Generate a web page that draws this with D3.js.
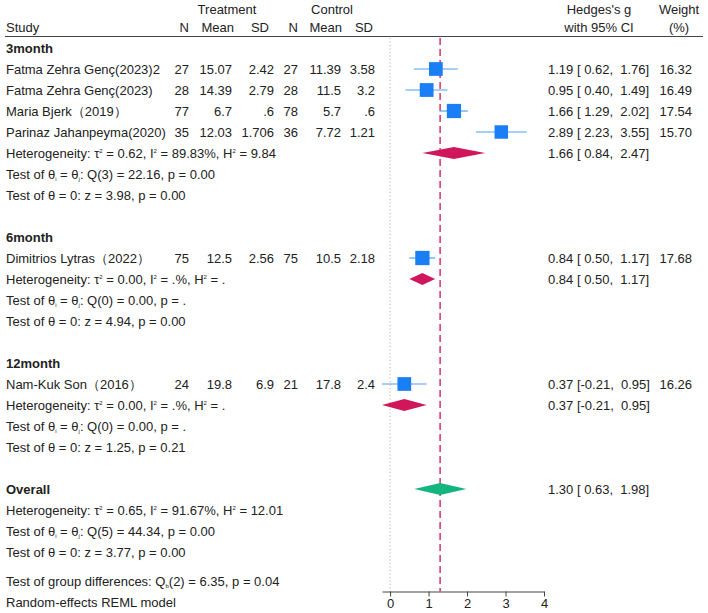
<!DOCTYPE html>
<html>
<head>
<meta charset="utf-8">
<script src="https://cdn.jsdelivr.net/npm/d3@7"></script>
<style>
  body { margin: 0; background: #fff; }
  svg text { font-family: "Liberation Sans", Arial, sans-serif; font-size: 13px; fill: #222; }
</style>
</head>
<body>
<svg id="chart" width="708" height="613"></svg>
<script>
// study level data
var subgroups = ['3month', '6month', '12month'];
var studies = ['Fatma Zehra Genç(2023)2', 'Fatma Zehra Genç(2023)', 'Maria Bjerk\uFF082019\uFF09',
  'Parinaz Jahanpeyma(2020)', 'Dimitrios Lytras\uFF082022\uFF09', 'Nam-Kuk Son\uFF082016\uFF09'];
var studyGroup = [0, 0, 0, 0, 1, 2];
var tN = [27, 28, 77, 35, 75, 24];
var tMean = [15.07, 14.39, 6.7, 12.03, 12.5, 19.8];
var tSD = [2.42, 2.79, 0.6, 1.706, 2.56, 6.9];
var cN = [27, 28, 78, 36, 75, 21];
var cMean = [11.39, 11.5, 5.7, 7.72, 10.5, 17.8];
var cSD = [3.58, 3.2, 0.6, 1.21, 2.18, 2.4];
var g = [1.19, 0.95, 1.66, 2.89, 0.84, 0.37];
var gLo = [0.62, 0.40, 1.29, 2.23, 0.50, -0.21];
var gHi = [1.76, 1.49, 2.02, 3.55, 1.17, 0.95];
var weight = [16.32, 16.49, 17.54, 15.70, 17.68, 16.26];

// subgroup summaries
var sumG = [1.66, 0.84, 0.37];
var sumLo = [0.84, 0.50, -0.21];
var sumHi = [2.47, 1.17, 0.95];
var tau2 = ['0.62', '0.00', '0.00'];
var i2 = ['89.83%', '.%', '.%'];
var h2 = ['9.84', '.', '.'];
var qDf = [3, 0, 0];
var qVal = ['22.16', '0.00', '0.00'];
var qP = ['0.00', '.', '.'];
var zVal = ['3.98', '4.94', '1.25'];
var zP = ['0.00', '0.00', '0.21'];

// overall
var overall = { g: 1.30, lo: 0.63, hi: 1.98, tau2: '0.65', i2: '91.67%', h2: '12.01',
  qDf: 5, q: '44.34', qP: '0.00', z: '3.77', zP: '0.00' };
var groupDiff = { df: 2, q: '6.35', p: '0.04' };
var xTicks = [0, 1, 2, 3, 4];

var svg = d3.select('#chart');

var x = d3.scaleLinear().domain([-0.21, 4]).range([382, 544]);
var rowY = d3.scaleLinear().domain([0, 26]).range([48, 48 + 21 * 26]);
var axisY = 591.5;

var blue = '#1a7ff5', blueLine = '#4da0f0', crimson = '#d0175c', green = '#12b57e';

function fmt(v) { return String(v).replace(/^0\./, '.'); }
function f2(v) { return v.toFixed(2); }
function ciText(m, lo, hi) {
  var l = f2(lo), h = f2(hi);
  return f2(m) + ' [' + (lo < 0 ? '' : ' ') + l + ', ' + (hi < 0 ? '' : ' ') + h + ']';
}

function txt(xp, yp, s, anchor) {
  return svg.append('text')
    .attr('x', xp).attr('y', yp).attr('dy', '0.35em')
    .attr('text-anchor', anchor || 'start')
    .style('white-space', 'pre')
    .text(s);
}
// small raised / lowered marks, offsets in px so they don't drift
function sup(t, s) {
  t.append('tspan').attr('dy', -5).style('font-size', '6px').text(s);
}
function sub(t, s) {
  t.append('tspan').attr('dy', 2).style('font-size', '6px').text(s);
}
function back(t, d, s) {
  t.append('tspan').attr('dy', d).text(s);
}

// headers
txt(227, 9, 'Treatment', 'middle');
txt(332, 9, 'Control', 'middle');
txt(6, 27, 'Study');
txt(189, 27, 'N', 'end');
txt(234, 27, 'Mean', 'end');
txt(269, 27, 'SD', 'end');
txt(298, 27, 'N', 'end');
txt(342, 27, 'Mean', 'end');
txt(373, 27, 'SD', 'end');
txt(599, 9, "Hedges's g", 'middle');
txt(599, 27, 'with 95% CI', 'middle');
txt(679, 9, 'Weight', 'middle');
txt(679, 27, '(%)', 'middle');

svg.append('line')
  .attr('x1', 5).attr('x2', 703).attr('y1', 36.5).attr('y2', 36.5)
  .attr('stroke', '#444').attr('stroke-width', 1.2);

// reference lines
svg.append('line')
  .attr('x1', x(0)).attr('x2', x(0)).attr('y1', 38).attr('y2', axisY)
  .attr('stroke', '#c8a0aa').attr('stroke-width', 1).attr('stroke-dasharray', '1,2.5');
svg.append('line')
  .attr('x1', x(overall.g)).attr('x2', x(overall.g)).attr('y1', 38).attr('y2', axisY)
  .attr('stroke', '#d6245e').attr('stroke-width', 1.4).attr('stroke-dasharray', '7,4');

// statistics lines
function hetLine(row, t, i, h) {
  var t0 = txt(6, rowY(row), 'Heterogeneity: \u03C4');
  sup(t0, '2'); back(t0, 5, ' = ' + t + ', I');
  sup(t0, '2'); back(t0, 5, ' = ' + i + ', H');
  sup(t0, '2'); back(t0, 5, ' = ' + h);
}
function qLine(row, df, q, p) {
  var t0 = txt(6, rowY(row), 'Test of \u03B8');
  sub(t0, 'i'); back(t0, -2, ' = \u03B8');
  sub(t0, 'j'); back(t0, -2, ': Q(' + df + ') = ' + q + ', p = ' + p);
}
function zLine(row, z, p) {
  txt(6, rowY(row), 'Test of \u03B8 = 0: z = ' + z + ', p = ' + p);
}

// rows for each subgroup
var groupStart = [0, 9, 15];
var rowOfStudy = [];
subgroups.forEach(function(name, k) {
  var r = groupStart[k];
  txt(6, rowY(r), name).style('font-weight', 'bold');
  var idx = d3.range(studies.length).filter(function(i) { return studyGroup[i] === k; });
  idx.forEach(function(i, j) { rowOfStudy[i] = r + 1 + j; });
  var hr = r + 1 + idx.length;
  hetLine(hr, tau2[k], i2[k], h2[k]);
  qLine(hr + 1, qDf[k], qVal[k], qP[k]);
  zLine(hr + 2, zVal[k], zP[k]);

  // subgroup diamond
  var yc = rowY(hr);
  svg.append('path')
    .attr('d', 'M' + x(sumLo[k]) + ',' + yc + 'L' + x(sumG[k]) + ',' + (yc - 6) +
      'L' + x(sumHi[k]) + ',' + yc + 'L' + x(sumG[k]) + ',' + (yc + 6) + 'Z')
    .attr('fill', crimson);
  txt(548, yc, ciText(sumG[k], sumLo[k], sumHi[k]));
});

// studies
studies.forEach(function(name, i) {
  var yc = rowY(rowOfStudy[i]);
  txt(6, yc, name);
  txt(189, yc, tN[i], 'end');
  txt(232, yc, fmt(tMean[i]), 'end');
  txt(274, yc, fmt(tSD[i]), 'end');
  txt(298, yc, cN[i], 'end');
  txt(341, yc, fmt(cMean[i]), 'end');
  txt(375, yc, fmt(cSD[i]), 'end');
  txt(548, yc, ciText(g[i], gLo[i], gHi[i]));
  txt(692, yc, weight[i].toFixed(2), 'end');

  svg.append('line')
    .attr('x1', x(gLo[i])).attr('x2', x(gHi[i])).attr('y1', yc).attr('y2', yc)
    .attr('stroke', blueLine).attr('stroke-width', 1.2);
  var s = 3.4 * Math.sqrt(weight[i]);
  svg.append('rect')
    .attr('x', x(g[i]) - s / 2).attr('y', yc - s / 2)
    .attr('width', s).attr('height', s)
    .attr('fill', blue);
});

// overall block
txt(6, rowY(21), 'Overall').style('font-weight', 'bold');
hetLine(22, overall.tau2, overall.i2, overall.h2);
qLine(23, overall.qDf, overall.q, overall.qP);
zLine(24, overall.z, overall.zP);
var oy = rowY(21);
svg.append('path')
  .attr('d', 'M' + x(overall.lo) + ',' + oy + 'L' + x(overall.g) + ',' + (oy - 6) +
    'L' + x(overall.hi) + ',' + oy + 'L' + x(overall.g) + ',' + (oy + 6) + 'Z')
  .attr('fill', green);
txt(548, oy, ciText(overall.g, overall.lo, overall.hi));

var gd = txt(6, rowY(25.38), 'Test of group differences: Q');
sub(gd, 'b');
back(gd, -2, '(' + groupDiff.df + ') = ' + groupDiff.q + ', p = ' + groupDiff.p);
txt(6, rowY(26.38), 'Random-effects REML model');

// x axis
var axis = svg.append('g')
  .attr('transform', 'translate(0,' + axisY + ')')
  .call(d3.axisBottom(x).tickValues(xTicks).tickFormat(d3.format('d')).tickSize(5).tickSizeOuter(0));
axis.select('.domain').attr('stroke', '#444');
axis.selectAll('.tick line').attr('stroke', '#444');
axis.selectAll('.tick text')
  .style('font-family', '"Liberation Sans", Arial, sans-serif')
  .style('font-size', '13px').attr('fill', '#222').attr('y', 7);
</script>
</body>
</html>
